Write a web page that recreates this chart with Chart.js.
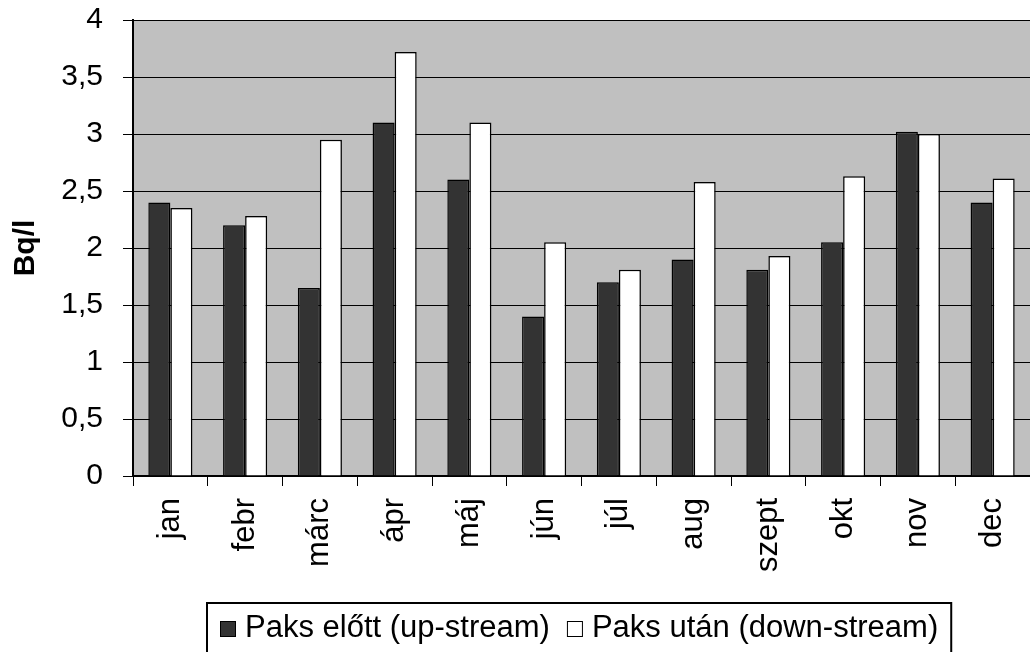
<!DOCTYPE html>
<html>
<head>
<meta charset="utf-8">
<script src="https://cdn.jsdelivr.net/npm/chart.js@4.4.0/dist/chart.umd.min.js"></script>
<style>
  html, body { margin: 0; padding: 0; background: #fff; }
</style>
</head>
<body>
<canvas id="chart" width="1030" height="652"></canvas>
<script>
const months = ['jan', 'febr', 'márc', 'ápr', 'máj', 'jún', 'júl', 'aug', 'szept', 'okt', 'nov', 'dec'];
const upstream = [2.4, 2.2, 1.65, 3.1, 2.6, 1.4, 1.7, 1.9, 1.81, 2.05, 3.02, 2.4];
const downstream = [2.35, 2.28, 2.95, 3.72, 3.1, 2.05, 1.81, 2.58, 1.93, 2.63, 3.0, 2.61];
const yTickLabels = ['0', '0,5', '1', '1,5', '2', '2,5', '3', '3,5', '4'];
const seriesNames = ['Paks előtt (up-stream)', 'Paks után (down-stream)'];

const FONT = "'Liberation Sans', Arial, sans-serif";

// grey plot area like the old excel chart
const plotBackground = {
  id: 'plotBackground',
  beforeDraw(chart) {
    const { ctx, chartArea: a } = chart;
    ctx.save();
    ctx.fillStyle = '#c0c0c0';
    ctx.fillRect(a.left, a.top, a.right - a.left, a.bottom - a.top);
    ctx.restore();
  }
};

// legend with a frame around it, drawn from the dataset labels/colours
const boxedLegend = {
  id: 'boxedLegend',
  afterDraw(chart) {
    const { ctx, chartArea } = chart;
    ctx.save();
    ctx.font = `31px ${FONT}`;
    const box = 16, gap = 9, itemGap = 17, padX = 13;
    const items = chart.data.datasets.map(ds => ({
      text: ds.label,
      fill: ds.backgroundColor,
      w: ctx.measureText(ds.label).width
    }));
    const contentW = items.reduce((acc, it) => acc + box + gap + it.w, 0) + itemGap * (items.length - 1);
    const frameW = contentW + padX * 2;
    const cx = (chartArea.left + chartArea.right) / 2 - 2;
    const frameL = Math.round(cx - frameW / 2);
    const frameT = chart.height - 49;
    const baseY = chart.height - 15;

    ctx.lineWidth = 2;
    ctx.strokeStyle = '#000';
    ctx.strokeRect(frameL, frameT, frameW, 60);

    let x = frameL + padX;
    ctx.textBaseline = 'alphabetic';
    ctx.textAlign = 'left';
    items.forEach(it => {
      ctx.fillStyle = it.fill;
      ctx.fillRect(x, baseY - box, box, box);
      ctx.lineWidth = 1;
      ctx.strokeStyle = '#000';
      ctx.strokeRect(x + 0.5, baseY - box + 0.5, box - 1, box - 1);
      ctx.fillStyle = '#000';
      ctx.fillText(it.text, x + box + gap, baseY);
      x += box + gap + it.w + itemGap;
    });
    ctx.restore();
  }
};

new Chart(document.getElementById('chart'), {
  type: 'bar',
  data: {
    labels: months,
    datasets: [
      {
        label: seriesNames[0],
        data: upstream,
        backgroundColor: '#333333',
        borderColor: '#000',
        borderWidth: 1.5
      },
      {
        label: seriesNames[1],
        data: downstream,
        backgroundColor: '#ffffff',
        borderColor: '#000',
        borderWidth: 1.5
      }
    ]
  },
  options: {
    responsive: false,
    animation: false,
    layout: { padding: { top: 0, right: -4, bottom: 76, left: 0 } },
    datasets: {
      bar: { barPercentage: 1, categoryPercentage: 0.59 }
    },
    plugins: {
      legend: { display: false },
      tooltip: { enabled: false }
    },
    scales: {
      x: {
        offset: true,
        grid: { offset: true, drawOnChartArea: false, drawTicks: true, tickLength: 10, color: '#000', lineWidth: 1 },
        border: { color: '#000', width: 2 },
        ticks: {
          autoSkip: false,
          minRotation: 90,
          maxRotation: 90,
          padding: 12,
          color: '#000',
          font: { family: FONT, size: 31 }
        },
        afterFit: (s) => {
          s.height = 100;
          s.paddingLeft = 0;
          s.paddingRight = 0;
        }
      },
      y: {
        min: 0,
        max: 4,
        grid: { color: '#000', lineWidth: 1, tickLength: 10 },
        border: { color: '#000', width: 2 },
        ticks: {
          stepSize: 0.5,
          padding: 20,
          color: '#000',
          font: { family: FONT, size: 30 },
          callback: (v, i) => yTickLabels[i]
        },
        title: {
          display: true,
          text: 'Bq/l',
          color: '#000',
          font: { family: FONT, size: 30, weight: 'bold' },
          padding: { top: 8, bottom: 0 }
        },
        afterFit: (s) => {
          s.width = 133;
          s.paddingTop = 20; // keep the top gridline where the original has it
          s.paddingBottom = 0;
        }
      }
    }
  },
  plugins: [plotBackground, boxedLegend]
});
</script>
</body>
</html>
